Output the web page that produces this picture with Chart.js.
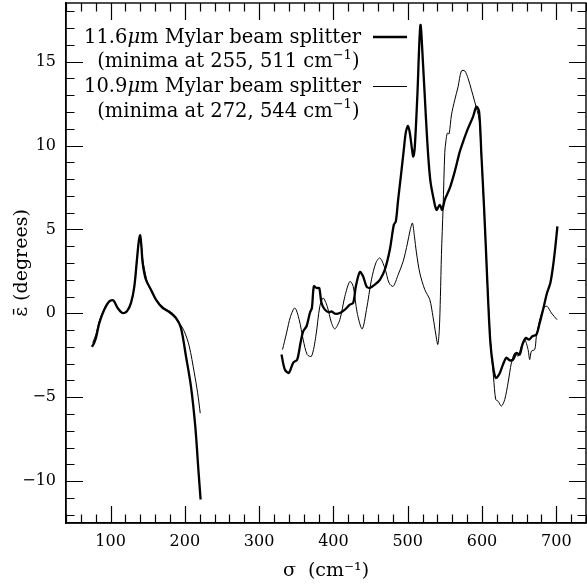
<!DOCTYPE html>
<html><head><meta charset="utf-8">
<script src="https://cdn.jsdelivr.net/npm/chart.js@4"></script>
<style>html,body{margin:0;padding:0;background:#fff}#wrap{width:587px;height:587px;position:relative}</style>
</head><body><div id="wrap"><canvas id="c" width="587" height="587"></canvas></div>
<script>
// ---- data ----
const thickX = [75,78,80.4,84.9,91.6,98.3,103.7,109.5,116.2,122,127.5,132,135.5,138,139.8,141.5,143.2,147.6,154.4,161.1,170,179,188,194.7,201.5,208.2,214,218.5,221.2,
 275,
 330.1,334.6,340,345.8,351.2,355.7,359.3,363.8,368.3,371,373.7,377.2,380.8,384,388.5,394.3,397.4,401.9,408.6,415.4,422.1,426.6,430.2,435.5,440,444.5,449,455.7,462.5,469.2,475.9,481.3,484,487.1,490.7,494.7,497.5,500.5,503,505.9,507.5,509.5,513,517.1,520.7,524.3,527.5,530.6,534.2,538.7,543.2,546.3,549.9,556.6,563.3,570.1,574.6,581.3,588,592.5,596.1,599.2,602.8,605.9,608.2,611.3,614.9,618.5,623,628.3,632.8,637.3,641.8,646.3,650.8,654.4,658.9,663.3,667.8,673.2,677.7,682.2,687.5,692,695.6,698.8,701.5];
const thickY = [-2.0,-1.75,-1.46,-0.57,0.22,0.71,0.77,0.32,0.02,0.12,0.62,1.61,3.2,4.3,4.65,4.0,3.0,2.0,1.41,0.82,0.32,0.08,-0.28,-0.87,-2.56,-4.35,-6.73,-9.5,-11.1,
 null,
 -2.46,-3.35,-3.55,-2.95,-2.76,-1.76,-1.07,-0.77,0.02,0.32,1.61,1.51,1.51,0.62,0.22,0.06,0.12,-0.02,0.02,0.22,0.52,0.62,1.61,2.46,2.2,1.61,1.51,1.71,2.0,2.6,3.79,5.28,5.48,6.77,8.15,9.74,10.8,11.17,10.7,9.74,9.35,9.9,13.0,17.18,14.8,11.83,9.45,7.86,6.97,6.17,6.47,6.17,6.77,7.46,8.45,9.64,10.24,11.04,11.73,12.32,12.03,9.45,6.27,3.2,0.82,-1.76,-3.15,-3.85,-3.65,-3.05,-2.65,-2.8,-2.76,-2.36,-2.46,-1.86,-1.47,-1.57,-1.37,-1.27,-0.57,0.22,1.21,1.81,2.8,3.99,5.18];
const thinX = [75.9,80,84.9,91.6,98.3,103.7,109.5,116.2,122,127.5,132,135.5,138,139.8,141.8,144,149.9,156,163.3,172.3,183.5,192.5,199.2,205.9,212.7,217.2,220.7,
 275,
 331.5,336.9,342.3,348.1,353.9,359.3,364.7,370.5,376.3,381.7,386.2,391.6,397.4,401.9,408.6,415.4,422.1,426.6,432,438.7,444.5,451.2,457.1,462.5,469.2,475,480.4,487.1,493.9,499.7,503.5,506.4,509,511.8,516.3,523,529.7,534,538,540.5,542.5,544,545.4,547.6,549.9,551.5,553.4,555.7,558.9,563.3,567.8,572.3,576.8,581.3,585.8,590.3,593.4,596.5,599.5,603,606,609,612,615.5,618.5,621.6,626.1,630.6,635.1,639.6,644.1,648.5,653,657.5,662,664.2,666.5,671,673.2,677.7,683.1,687.5,693.4,701];
const thinY = [-1.75,-1.3,-0.45,0.3,0.72,0.75,0.3,0.0,0.1,0.6,1.6,3.2,4.3,4.6,3.9,3.0,1.8,1.2,0.71,0.32,0.0,-0.57,-1.07,-1.96,-3.55,-4.74,-5.95,
 null,
 -2.16,-1.17,-0.18,0.32,-0.38,-1.57,-2.46,-2.56,-1.37,0.42,0.91,0.42,-0.57,-0.93,-0.38,1.01,1.9,1.61,0.02,-0.93,0.22,2.0,3.0,3.3,2.7,1.8,1.61,2.3,3.1,4.19,5.0,5.38,4.6,3.6,2.4,1.41,0.82,-0.2,-1.3,-1.86,-1.0,1.0,3.5,6.27,9.6,10.3,10.74,10.7,11.83,12.72,13.51,14.45,14.45,14.0,13.32,12.6,12.1,11.5,9.0,6.0,3.0,0.2,-2.0,-3.8,-5.14,-5.24,-5.53,-5.14,-4.14,-2.95,-2.36,-2.56,-1.96,-1.57,-2.16,-2.76,-2.26,-2.16,-1.37,-0.4,0.32,0.42,0.02,-0.38];
const xTicks = [100,200,300,400,500,600,700];
const yTicks = [-10,-5,0,5,10,15];
const xMinor = 20, yMinor = 1;
const xRange = [40,740], yRange = [-12.5,18.5];
const legendLines = [
  [{t:'11.6'},{t:'μ',it:true},{t:'m Mylar beam splitter'}],
  [{t:'(minima at 255, 511 cm'},{t:'−1',sup:true},{t:')'}],
  [{t:'10.9'},{t:'μ',it:true},{t:'m Mylar beam splitter'}],
  [{t:'(minima at 272, 544 cm'},{t:'−1',sup:true},{t:')'}]
];
const seriesNames = ['11.6μm Mylar beam splitter','10.9μm Mylar beam splitter'];

const FONT = "'DejaVu Serif', serif";
const pts = (xs, ys) => xs.map((x,i)=>({x:x, y:ys[i]}));

const frameTicks = {
  id:'frameTicks',
  afterDraw(chart){
    const {ctx, chartArea:a, scales:{x, y}} = chart;
    ctx.save();
    ctx.strokeStyle = '#000';
    ctx.lineWidth = 1.2;
    ctx.beginPath();
    const MJ = 17, MN = 8.5;
    for (let v = Math.ceil(xRange[0]/xMinor)*xMinor; v <= xRange[1]; v += xMinor) {
      const p = Math.round(x.getPixelForValue(v)) + 0.5;
      const L = xTicks.includes(v) ? MJ : MN;
      ctx.moveTo(p, a.bottom); ctx.lineTo(p, a.bottom - L);
      ctx.moveTo(p, a.top); ctx.lineTo(p, a.top + L);
    }
    for (let v = Math.ceil(yRange[0]/yMinor)*yMinor; v <= yRange[1]; v += yMinor) {
      const p = Math.round(y.getPixelForValue(v)) + 0.5;
      const L = yTicks.includes(v) ? MJ : MN;
      ctx.moveTo(a.left, p); ctx.lineTo(a.left + L, p);
      ctx.moveTo(a.right, p); ctx.lineTo(a.right - L, p);
    }
    ctx.stroke();
    ctx.lineWidth = 1.4;
    ctx.strokeRect(a.left, a.top, a.right - a.left, a.bottom - a.top);
    // legend
    const size = 19.5;
    const baselines = [43.3, 67, 92.3, 116.5];
    const rights = [361, 359.5, 361, 359.5];
    ctx.fillStyle = '#000';
    ctx.textBaseline = 'alphabetic';
    ctx.textAlign = 'left';
    legendLines.forEach((parts, i) => {
      const fonts = parts.map(p => p.sup ? `13px ${FONT}` : (p.it ? `italic ${size}px ${FONT}` : `${size}px ${FONT}`));
      let w = 0;
      const ws = parts.map((p, j) => { ctx.font = fonts[j]; const m = ctx.measureText(p.t).width; w += m; return m; });
      let cx = rights[i] - w;
      parts.forEach((p, j) => {
        ctx.font = fonts[j];
        ctx.fillText(p.t, cx, baselines[i] - (p.sup ? 8.5 : 0));
        cx += ws[j];
      });
    });
    // legend line samples
    ctx.beginPath(); ctx.lineWidth = 2.3; ctx.moveTo(373, 37); ctx.lineTo(407, 37); ctx.stroke();
    ctx.beginPath(); ctx.lineWidth = 1; ctx.moveTo(373, 86.5); ctx.lineTo(407, 86.5); ctx.stroke();
    ctx.restore();
  }
};

new Chart(document.getElementById('c'), {
  type: 'line',
  data: {
    datasets: [
      {label: seriesNames[0], data: pts(thickX, thickY), borderColor:'#000', borderWidth:2.3, pointRadius:0, tension:0.3, spanGaps:false, fill:false},
      {label: seriesNames[1], data: pts(thinX, thinY), borderColor:'#000', borderWidth:1, pointRadius:0, tension:0.3, spanGaps:false, fill:false}
    ]
  },
  options: {
    responsive:false, animation:false, devicePixelRatio:1,
    layout:{padding:{top:3, right:1, left:0, bottom:0}},
    plugins:{legend:{display:false}, tooltip:{enabled:false}},
    scales:{
      x:{type:'linear', min:xRange[0], max:xRange[1],
        grid:{display:false, drawTicks:false}, border:{display:true, color:'#000', width:1.4},
        afterBuildTicks: s => { s.ticks = xTicks.map(v=>({value:v})); },
        afterFit: s => { s.height = 64; s.paddingLeft = 0; s.paddingRight = 0; },
        ticks:{color:'#000', font:{family:FONT, size:16}, padding:9, maxRotation:0, autoSkip:false},
        title:{display:true, text:'σ  (cm⁻¹)', color:'#000', font:{family:FONT, size:19}, padding:{top:0,bottom:5}}
      },
      y:{type:'linear', min:yRange[0], max:yRange[1],
        grid:{display:false, drawTicks:false}, border:{display:true, color:'#000', width:1.4},
        afterBuildTicks: s => { s.ticks = yTicks.map(v=>({value:v})); },
        afterFit: s => { s.width = 66; s.paddingTop = 0; s.paddingBottom = 0; },
        ticks:{color:'#000', font:{family:FONT, size:16}, padding:10, autoSkip:false,
          callback: v => (v < 0 ? '−' + Math.abs(v) : String(v))},
        title:{display:true, text:'ε̄ (degrees)', color:'#000', font:{family:FONT, size:19}, padding:{top:11,bottom:0}}
      }
    }
  },
  plugins:[frameTicks]
});
</script>
</body></html>
